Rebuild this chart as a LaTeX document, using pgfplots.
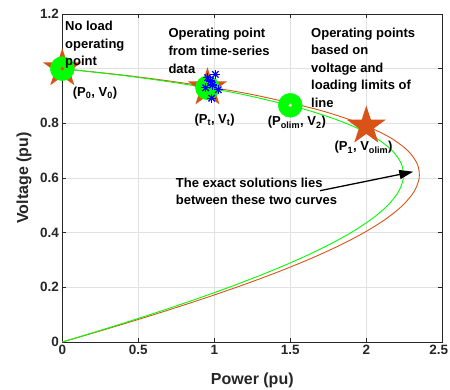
\documentclass[border=0pt]{standalone}
\usepackage{pgfplots}
\pgfplotsset{compat=1.18}
\usepackage{fontspec}
\setmainfont{Liberation Sans}
\usetikzlibrary{arrows.meta}
\definecolor{mgreen}{RGB}{0,255,0}
\definecolor{morange}{RGB}{217,83,25}
\definecolor{axgray}{RGB}{38,38,38}
\definecolor{gridgray}{RGB}{225,225,225}
\definecolor{mblue}{RGB}{0,0,255}

\pgfdeclareplotmark{pentagram}{%
  \pgfpathmoveto{\pgfpointpolar{90}{\pgfplotmarksize}}%
  \pgfpathlineto{\pgfpointpolar{126}{0.382*\pgfplotmarksize}}%
  \pgfpathlineto{\pgfpointpolar{162}{\pgfplotmarksize}}%
  \pgfpathlineto{\pgfpointpolar{198}{0.382*\pgfplotmarksize}}%
  \pgfpathlineto{\pgfpointpolar{234}{\pgfplotmarksize}}%
  \pgfpathlineto{\pgfpointpolar{270}{0.382*\pgfplotmarksize}}%
  \pgfpathlineto{\pgfpointpolar{306}{\pgfplotmarksize}}%
  \pgfpathlineto{\pgfpointpolar{342}{0.382*\pgfplotmarksize}}%
  \pgfpathlineto{\pgfpointpolar{18}{\pgfplotmarksize}}%
  \pgfpathlineto{\pgfpointpolar{54}{0.382*\pgfplotmarksize}}%
  \pgfpathclose
  \pgfusepathqfill
}

\newcommand\annfont{\fontsize{13bp}{15.6bp}\selectfont\bfseries}

\begin{document}
\begin{tikzpicture}
\path[use as bounding box] (-62.3bp,-48bp) rectangle (387.7bp,342bp);
\begin{axis}[
  at={(0,0)}, anchor=south west,
  scale only axis, width=380bp, height=328bp,
  xmin=0, xmax=2.5, ymin=0, ymax=1.2,
  xtick={0,0.5,1,1.5,2,2.5},
  ytick={0,0.2,0.4,0.6,0.8,1,1.2},
  xticklabels={0,0.5,1,1.5,2,\hspace*{-7bp}2.5},
  yticklabels={0,0.2,0.4,0.6,0.8,1,1.2},
  grid=major, major grid style={gridgray, line width=0.7bp},
  axis line style={axgray, line width=0.8bp},
  tick style={axgray, line width=0.8bp},
  tick align=inside, major tick length=4bp,
  xtick pos=both, ytick pos=both,
  xticklabel pos=bottom, yticklabel pos=left,
  ticklabel style={font=\fontsize{13.5bp}{16bp}\selectfont\bfseries, color=axgray},
  /pgf/number format/assume math mode=true,
  clip=false,
]
% red (outer) curve
\addplot[morange, line width=0.9bp, smooth, mark=none] coordinates {
(0,1) (0.42211,0.975) (0.76579,0.95) (1.05305,0.925) (1.29632,0.9)
(1.68038,0.85) (1.95756,0.8) (2.15030,0.75) (2.27314,0.7) (2.33645,0.65)
(2.34802,0.6) (2.31398,0.55) (2.23939,0.5) (2.12848,0.45) (1.98494,0.4)
(1.81200,0.35) (1.61262,0.3) (1.38946,0.25) (1.14502,0.2) (0.88165,0.15)
(0.60159,0.1) (0.30700,0.05) (0,0)
};
% green (inner) curve
\addplot[mgreen, line width=0.9bp, smooth, mark=none] coordinates {
(0,1) (0.40090,0.975) (0.72813,0.95) (1.00215,0.925) (1.23451,0.9)
(1.60187,0.85) (1.86741,0.8) (2.05242,0.75) (2.17068,0.7) (2.23198,0.65)
(2.24380,0.6) (2.21193,0.55) (2.14121,0.5) (2.03565,0.45) (1.89878,0.4)
(1.73375,0.35) (1.54330,0.3) (1.33000,0.25) (1.09623,0.2) (0.84423,0.15)
(0.57616,0.1) (0.29407,0.05) (0,0)
};
% orange stars
\addplot[only marks, mark=pentagram, mark size=20.5bp, color=morange, mark options={fill=morange, draw=none}] coordinates {
(0,1.0) (0.955,0.93) (2.0,0.79)
};
% green circles
\addplot[only marks, mark=*, mark size=12bp, color=mgreen, mark options={fill=mgreen, draw=none}] coordinates {
(0,1.0) (0.955,0.93) (1.5,0.866)
};
% small centre dots
\addplot[only marks, mark=*, mark size=1.6bp, color=morange, mark options={fill=morange, draw=none}] coordinates {(0,1.0)};
\addplot[only marks, mark=*, mark size=1.6bp, color=white, mark options={fill=white, draw=morange!40, line width=0.3bp}] coordinates {(1.5,0.866)};
% blue asterisks (time-series points)
\addplot[only marks, mark=+, mark size=4.5bp, color=mblue, mark options={line width=1.3bp}] coordinates {
(0.956,0.967) (1.007,0.979) (0.943,0.930) (0.987,0.940) (1.026,0.923) (0.983,0.892) (0.975,0.955)
};
\addplot[only marks, mark=x, mark size=4.5bp, color=mblue, mark options={line width=1.3bp}] coordinates {
(0.956,0.967) (1.007,0.979) (0.943,0.930) (0.987,0.940) (1.026,0.923) (0.983,0.892) (0.975,0.955)
};
\end{axis}
% axis labels
\node[font=\fontsize{16bp}{19bp}\selectfont\bfseries, text=axgray] at (190bp,-38bp) {Power (pu)};
\node[rotate=90, font=\fontsize{16bp}{19bp}\selectfont\bfseries, text=axgray] at (-38.3bp,164bp) {Voltage (pu)};
% annotations
\begin{scope}[every node/.style={font=\annfont, anchor=base west, inner sep=0pt}]
\node at (2.7bp,311bp) {No load};
\node at (2.7bp,293.7bp) {operating};
\node at (2.7bp,276.3bp) {point};
\node at (106bp,304.3bp) {Operating point};
\node at (106bp,286.3bp) {from time-series};
\node at (106bp,268.7bp) {data};
\node at (248.7bp,304.7bp) {Operating points};
\node at (248.7bp,287bp) {based on};
\node at (248.7bp,269.7bp) {voltage and};
\node at (248.7bp,252bp) {loading limits of};
\node at (248.7bp,234.7bp) {line};
\node at (10.4bp,245.3bp) {(P\textsubscript{0}, V\textsubscript{0})};
\node at (132bp,218bp) {(P\textsubscript{t}, V\textsubscript{t})};
\node at (205.4bp,216bp) {(P\textsubscript{olim}, V\textsubscript{2})};
\node at (272bp,191bp) {(P\textsubscript{1}, V\textsubscript{olim})};
\node at (113.4bp,154.7bp) {The exact solutions lies};
\node at (113.4bp,137bp) {between these two curves};
\end{scope}
\draw[line width=1.3bp, -{Triangle[length=14bp,width=9bp]}] (257.7bp,151.3bp) -- (351bp,170.3bp);
\end{tikzpicture}
\end{document}
